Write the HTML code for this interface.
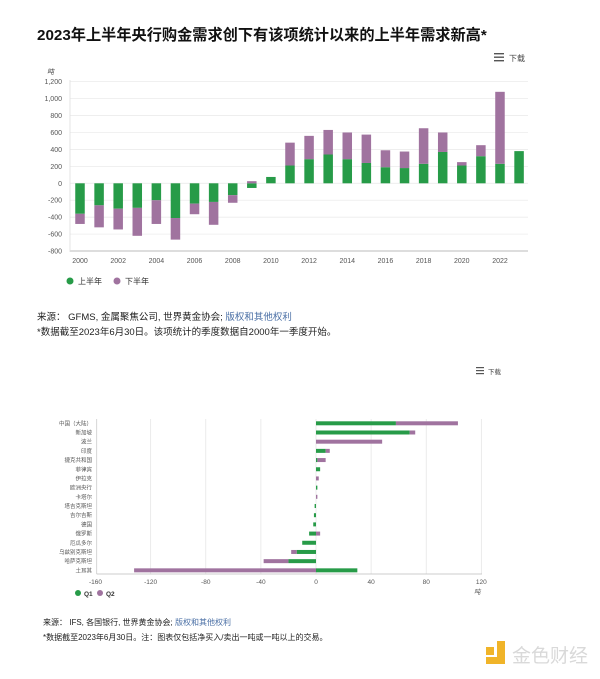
<!DOCTYPE html>
<html><head><meta charset="utf-8"><style>
body{margin:0;background:#fff;width:600px;height:674px;overflow:hidden;font-family:"Liberation Sans","Noto Sans CJK SC",sans-serif}
</style></head><body>
<svg id="s" width="600" height="674" xmlns="http://www.w3.org/2000/svg" font-family="Liberation Sans, Noto Sans CJK SC, sans-serif">
<text x="37" y="40" font-size="15.2" font-weight="bold" fill="#111">2023年上半年央行购金需求创下有该项统计以来的上半年需求新高*</text>
<g fill="#555"><rect x="494" y="53" width="10" height="1.4"/><rect x="494" y="56.5" width="10" height="1.4"/><rect x="494" y="60" width="10" height="1.4"/></g>
<text x="509" y="61" font-size="8" fill="#444">下载</text>
<text x="47" y="74" font-size="7" fill="#444" font-style="italic">吨</text>
<g id="g1" font-size="7" fill="#555" text-anchor="end"></g>
<g id="b1"></g>
<g fill="#555" font-size="7" text-anchor="middle" id="x1"></g>
<circle cx="70" cy="281" r="3.5" fill="#279b48"/><text x="78" y="284" font-size="8" fill="#333">上半年</text>
<circle cx="117" cy="281" r="3.5" fill="#a0739f"/><text x="125" y="284" font-size="8" fill="#333">下半年</text>
<text x="37" y="320" font-size="9.5" fill="#222">来源： GFMS, 金属聚焦公司, 世界黄金协会; <tspan fill="#4a6fa5">版权和其他权利</tspan></text>
<text x="37" y="335" font-size="9.5" fill="#222">*数据截至2023年6月30日。该项统计的季度数据自2000年一季度开始。</text>
<g fill="#555"><rect x="476" y="367" width="8" height="1.2"/><rect x="476" y="370" width="8" height="1.2"/><rect x="476" y="373" width="8" height="1.2"/></g>
<text x="488" y="374" font-size="6.5" fill="#444">下载</text>
<g id="g2"></g>
<g id="b2"></g>
<g id="l2" font-size="5.5" fill="#555" text-anchor="end"></g>
<circle cx="78" cy="593" r="3" fill="#279b48"/><text x="84" y="596" font-size="6.5" fill="#333" font-weight="bold">Q1</text>
<circle cx="100" cy="593" r="3" fill="#a0739f"/><text x="106" y="596" font-size="6.5" fill="#333" font-weight="bold">Q2</text>
<text x="474" y="594" font-size="6.5" fill="#555" font-style="italic">吨</text>
<text x="43" y="625" font-size="8" fill="#222">来源： IFS, 各国银行, 世界黄金协会; <tspan fill="#4a6fa5">版权和其他权利</tspan></text>
<text x="43" y="640" font-size="8" fill="#222">*数据截至2023年6月30日。注：图表仅包括净买入/卖出一吨或一吨以上的交易。</text>
<rect x="486" y="647" width="8" height="8" fill="#f0b429"/><rect x="497" y="641" width="8" height="23" fill="#f0b429"/><rect x="486" y="657" width="11" height="7" fill="#f0b429"/>
<text x="512" y="662" font-size="19" fill="#d9d9d9">金色财经</text>
</svg>
<script>
var NS="http://www.w3.org/2000/svg";
function el(p,t,a,txt){var e=document.createElementNS(NS,t);for(var k in a)e.setAttribute(k,a[k]);if(txt)e.textContent=txt;document.getElementById(p).appendChild(e);return e;}
var G="#279b48",P="#a0739f";
function y1(v){return 183.3-v*0.0847;}
for(var v=-800;v<=1200;v+=200){var y=y1(v);el("g1","line",{x1:70,x2:528,y1:y,y2:y,stroke:v==-800?"#bbb":"#ececec","stroke-width":v==-800?1:0.8});
el("g1","text",{x:62,y:y+2.5},v.toLocaleString("en-US"));}
el("g1","line",{x1:70,x2:70,y1:80,y2:252,stroke:"#ddd","stroke-width":0.8});
var d=[[-360,-120],[-260,-260],[-300,-245],[-290,-330],[-200,-280],[-410,-255],[-240,-125],[-220,-270],[-140,-90],[-55,25],[75,0],[210,270],[285,275],[340,290],[285,315],[240,335],[190,200],[180,195],[230,420],[370,230],[210,40],[320,130],[230,850],[380,0]];
function seg(p,x,w,a,b,c){var t=Math.min(a,b),bt=Math.max(a,b);el(p,"rect",{x:x,y:t,width:w,height:Math.max(bt-t,0.5),fill:c});}
d.forEach(function(r,i){var cx=80+i*19.09,x=cx-4.75;var h1=r[0],h2=r[1];
seg("b1",x,9.5,y1(0),y1(h1),G);
if(h2){var base=(h1*h2>0)?h1:0;seg("b1",x,9.5,y1(base),y1(base+h2),P);}
if(i%2==0)el("x1","text",{x:cx,y:263},String(2000+i));});
function x2(v){return 316+v*1.378;}
for(var v=-160;v<=120;v+=40){var x=x2(v);if(v>-160)el("g2","line",{x1:x,x2:x,y1:419,y2:574,stroke:"#e6e6e6","stroke-width":0.8});
el("g2","text",{x:x,y:584,"font-size":6.5,fill:"#555","text-anchor":"middle"},String(v));}
el("g2","line",{x1:96.7,x2:96.7,y1:419,y2:574,stroke:"#ccc","stroke-width":0.8});
el("g2","line",{x1:96.7,x2:482,y1:574,y2:574,stroke:"#bbb","stroke-width":0.8});
var L=["中国（大陆）","新加坡","波兰","印度","捷克共和国","菲律宾","伊拉克","欧洲央行","卡塔尔","塔吉克斯坦","吉尔吉斯","德国","俄罗斯","厄瓜多尔","乌兹别克斯坦","哈萨克斯坦","土耳其"];
var D=[[58,45],[68,4],[0,48],[7,3],[1,6],[3,0],[0,2],[1,0],[0,1],[-1,0],[-1.5,0],[-2,0],[-5,3],[-10,0],[-14,-4],[-20,-18],[30,-132]];
D.forEach(function(r,i){var cy=423.3+i*9.19;var a=r[0],b=r[1];
el("l2","text",{x:92,y:cy+2},L[i]);
if(a)el("b2","rect",{x:Math.min(x2(0),x2(a)),y:cy-2,width:Math.abs(a*1.378),height:4,fill:G});
if(b){var base=(a*b>0)?a:0;el("b2","rect",{x:Math.min(x2(base),x2(base+b)),y:cy-2,width:Math.abs(b*1.378),height:4,fill:P});}});
</script>
</body></html>
